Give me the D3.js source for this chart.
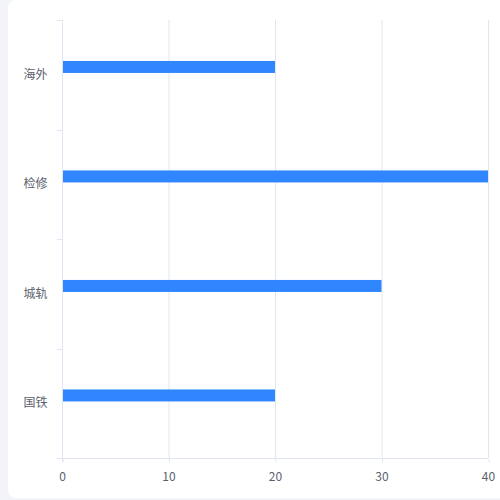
<!DOCTYPE html>
<html><head><meta charset="utf-8">
<script src="https://cdn.jsdelivr.net/npm/d3@7/dist/d3.min.js"></script>
<style>html,body{margin:0;padding:0;background:#f3f4f9;}svg{display:block;}</style>
</head><body>
<script>
const categories = ["国铁", "城轨", "检修", "海外"];
const values = [20, 30, 40, 20];
const xTicks = [0, 10, 20, 30, 40];

(function () {
const W = 500, H = 500;
const svg = d3.select("body").append("svg").attr("width", W).attr("height", H);
svg.append("rect").attr("x", 8).attr("y", 0).attr("width", 510).attr("height", 498).attr("rx", 8).attr("fill", "#fff");

const mL = 62, mR = 488, mT = 20, mB = 458;
const x = d3.scaleLinear().domain([0, 40]).range([mL, mR]);
const y = d3.scaleBand().domain(categories).range([mB, mT]);
const font = "'Noto Sans CJK SC', 'Noto Sans', sans-serif";
const lineColor = "#e0e6f1";
const textColor = "#5a606b";

// grid
svg.append("g").selectAll("line").data(xTicks.slice(1)).join("line")
  .attr("x1", d => x(d) + 0.5).attr("x2", d => x(d) + 0.5)
  .attr("y1", mT).attr("y2", mB)
  .attr("stroke", lineColor).attr("stroke-width", 1);

// x axis
const xa = svg.append("g").attr("transform", `translate(0,${mB + 0.5})`)
  .call(d3.axisBottom(x).tickValues(xTicks).tickSize(4).tickPadding(10));
xa.select(".domain").attr("stroke", lineColor).attr("d", `M${mL},0H${mR}`);
xa.selectAll(".tick line").attr("stroke", lineColor).attr("transform", "translate(0.5,0)");
xa.selectAll("text").attr("fill", textColor).attr("font-size", 12).attr("font-family", font);

// y axis
const ya = svg.append("g").attr("transform", `translate(${mL + 0.5},0)`)
  .call(d3.axisLeft(y).tickSize(0).tickPadding(15));
ya.select(".domain").attr("stroke", lineColor).attr("d", `M0,${mT}V${mB + 4}`);
ya.selectAll("text").attr("fill", textColor).attr("font-size", 12).attr("font-family", font);
// boundary ticks
const bounds = categories.map(c => y(c)).concat([mB]);
svg.append("g").selectAll("line").data(bounds).join("line")
  .attr("x1", mL - 5).attr("x2", mL)
  .attr("y1", d => Math.round(d) + 0.5).attr("y2", d => Math.round(d) + 0.5)
  .attr("stroke", lineColor);

// bars
const barH = 12;
svg.append("g").selectAll("rect").data(categories).join("rect")
  .attr("x", mL + 1)
  .attr("y", (d) => y(d) + y.bandwidth() / 2 - 7.8 - barH / 2)
  .attr("width", (d, i) => x(values[i]) - mL - 1)
  .attr("height", barH)
  .attr("fill", "#3086ff");
})();
</script>
</body></html>
